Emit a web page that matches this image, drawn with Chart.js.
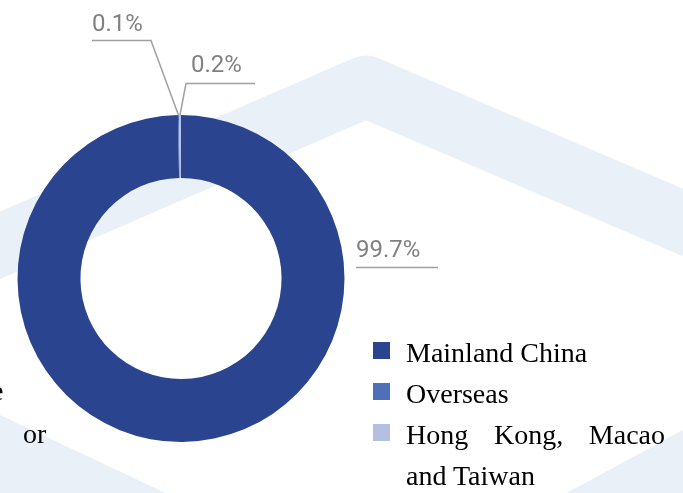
<!DOCTYPE html>
<html>
<head>
<meta charset="utf-8">
<script src="https://cdn.jsdelivr.net/npm/chart.js@4/dist/chart.umd.min.js"></script>
<style>
  html, body { margin: 0; padding: 0; background: #fff; overflow: hidden; }
  #wrap { position: relative; width: 683px; height: 493px; }
  #chart { position: absolute; left: 0; top: 0; }
  .serif { font-family: "Liberation Serif", "Times New Roman", serif; font-size: 28px; color: #000; }
  #legend { position: absolute; left: 373px; top: 332px; width: 300px; line-height: 41px; }
  .item { display: flex; align-items: flex-start; }
  .swatch { width: 17px; height: 17px; flex: none; margin-top: 10px; margin-right: 16px; }
  .txt { width: 259px; text-align: justify; }
  .frag { position: absolute; line-height: 1; white-space: nowrap; }
</style>
</head>
<body>
<div id="wrap">
  <canvas id="chart" width="683" height="493"></canvas>
  <div class="serif frag" style="left:-9px; top:377px;">e</div>
  <div class="serif frag" style="left:23px; top:420px;">or</div>
  <div id="legend" class="serif"></div>
</div>
<script>
// Revenue share by region (%)
const regions = ["Mainland China", "Overseas", "Hong Kong, Macao and Taiwan"];
const shares = [99.7, 0.1, 0.2];
const sliceColors = ["#2A448F", "#4E70B9", "#B4C0E2"];

// where each value label and its leader sits
const labelLayout = [
  { tx: 356, ty: 257, lx1: 356, lx2: 438, ly: 267.5, leader: false },
  { tx: 92,  ty: 31,  lx1: 92,  lx2: 151, ly: 40.5,  leader: true, elbow: 151 },
  { tx: 191, ty: 72,  lx1: 186, lx2: 255, ly: 83.5,  leader: true, elbow: 186 }
];

// light chevron bands behind the chart
const backdrop = {
  id: 'backdrop',
  beforeDraw(chart) {
    const ctx = chart.ctx;
    ctx.save();
    ctx.fillStyle = '#fff';
    ctx.fillRect(0, 0, chart.width, chart.height);
    ctx.strokeStyle = '#EAF0F8';
    ctx.fillStyle = '#EAF0F8';
    ctx.lineWidth = 62;
    ctx.lineJoin = 'round';
    ctx.beginPath();
    ctx.moveTo(-20, 254);
    ctx.lineTo(366, 86.5);
    ctx.lineTo(703, 231);
    ctx.stroke();
    ctx.beginPath();
    ctx.moveTo(0, 415);
    ctx.lineTo(380, 594);
    ctx.lineTo(683, 430);
    ctx.lineTo(683, 600);
    ctx.lineTo(0, 600);
    ctx.closePath();
    ctx.fill();
    ctx.restore();
  }
};

// percentage labels with underline / leader lines
const valueLabels = {
  id: 'valueLabels',
  afterDatasetsDraw(chart) {
    const ctx = chart.ctx;
    const meta = chart.getDatasetMeta(0);
    const values = chart.data.datasets[0].data;
    ctx.save();
    ctx.font = '400 24px Roboto, "Noto Sans", sans-serif';
    ctx.fillStyle = '#808080';
    ctx.textBaseline = 'alphabetic';
    ctx.strokeStyle = '#A0A0A0';
    ctx.lineWidth = 1.5;
    meta.data.forEach((arc, i) => {
      const L = labelLayout[i];
      const p = arc.getProps(['x', 'y', 'startAngle', 'endAngle', 'outerRadius'], true);
      const mid = (p.startAngle + p.endAngle) / 2;
      const ax = p.x + Math.cos(mid) * p.outerRadius;
      const ay = p.y + Math.sin(mid) * p.outerRadius;
      ctx.beginPath();
      if (L.leader) {
        if (L.elbow === L.lx2) {
          ctx.moveTo(L.lx1, L.ly);
          ctx.lineTo(L.lx2, L.ly);
          ctx.lineTo(ax, ay);
        } else {
          ctx.moveTo(ax, ay);
          ctx.lineTo(L.lx1, L.ly);
          ctx.lineTo(L.lx2, L.ly);
        }
      } else {
        ctx.moveTo(L.lx1, L.ly);
        ctx.lineTo(L.lx2, L.ly);
      }
      ctx.stroke();
      ctx.fillText(values[i].toFixed(1) + '%', L.tx, L.ty);
    });
    ctx.restore();
  }
};

const chart = new Chart(document.getElementById('chart'), {
  type: 'doughnut',
  data: {
    labels: regions,
    datasets: [{
      data: shares,
      backgroundColor: sliceColors,
      borderWidth: 0
    }]
  },
  options: {
    responsive: false,
    animation: false,
    devicePixelRatio: 1,
    cutout: '61.5%',
    layout: { padding: { left: 17.5, right: 338.5, top: 115, bottom: 51 } },
    plugins: {
      legend: { display: false },
      tooltip: { enabled: false }
    }
  },
  plugins: [backdrop, valueLabels]
});

// legend built from the chart's own labels and colours
const legendEl = document.getElementById('legend');
chart.data.labels.forEach((name, i) => {
  const item = document.createElement('div');
  item.className = 'item';
  const sw = document.createElement('span');
  sw.className = 'swatch';
  sw.style.background = chart.data.datasets[0].backgroundColor[i];
  const tx = document.createElement('span');
  tx.className = 'txt';
  tx.textContent = name;
  item.appendChild(sw);
  item.appendChild(tx);
  legendEl.appendChild(item);
});
</script>
</body>
</html>
